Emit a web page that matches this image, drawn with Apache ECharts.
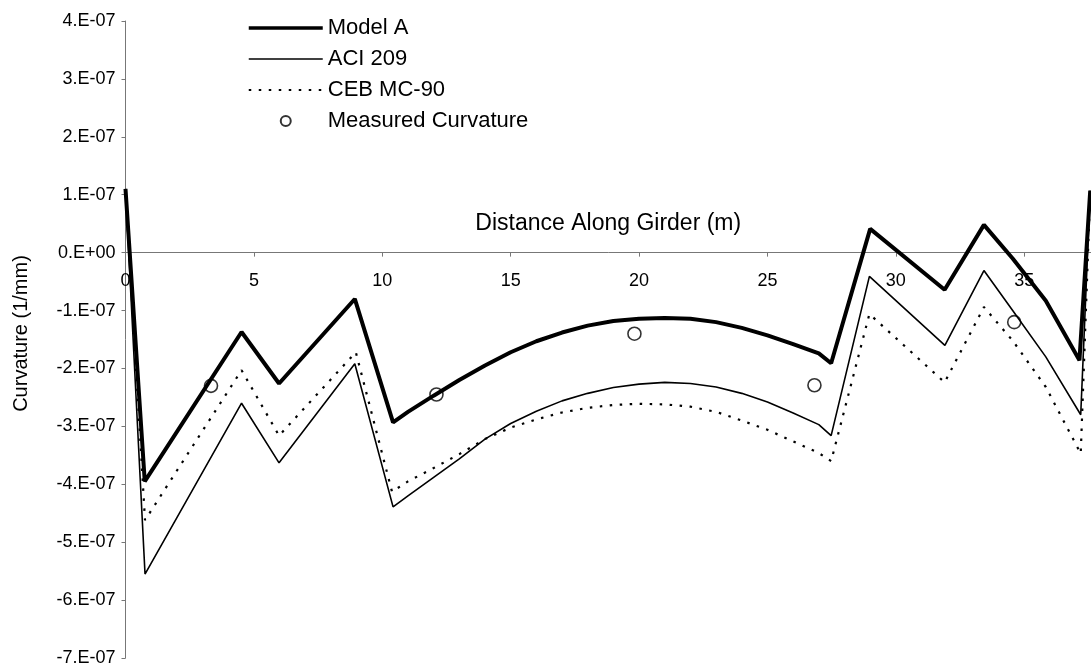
<!DOCTYPE html>
<html>
<head>
<meta charset="utf-8">
<title>Curvature Along Girder</title>
<script src="https://cdn.jsdelivr.net/npm/echarts@6/dist/echarts.min.js"></script>
<style>
  html, body { margin: 0; padding: 0; background: #fff; }
  #chart { width: 1091px; height: 667px; }
</style>
</head>
<body>
<div id="chart"></div>
<script>
// Distance along the girder (m) and curvature (1/mm) for each prediction model.
const modelA_x = [0, 0.75, 4.52, 5.98, 8.93, 10.42, 11, 12, 13, 14, 15, 16, 17, 18, 19, 20, 21, 22, 23, 24, 25, 26, 27, 27.48, 29.0, 31.9, 33.43, 34.55, 35.84, 37.15, 37.57];
const modelA_y = [1.10e-7, -3.95e-7, -1.37e-7, -2.26e-7, -0.80e-7, -2.93e-7, -2.75e-7, -2.47e-7, -2.20e-7, -1.95e-7, -1.72e-7, -1.53e-7, -1.38e-7, -1.26e-7, -1.18e-7, -1.14e-7, -1.13e-7, -1.14e-7, -1.20e-7, -1.30e-7, -1.43e-7, -1.58e-7, -1.74e-7, -1.91e-7, 0.41e-7, -0.64e-7, 0.48e-7, -0.10e-7, -0.83e-7, -1.86e-7, 1.07e-7];

const aci_x = [0, 0.76, 4.52, 5.98, 8.93, 10.42, 11, 12, 13, 14, 15, 16, 17, 18, 19, 20, 21, 22, 23, 24, 25, 26, 27, 27.48, 28.97, 31.91, 33.43, 34.55, 35.84, 37.2, 37.57];
const aci_y = [1.10e-7, -5.55e-7, -2.60e-7, -3.63e-7, -1.92e-7, -4.39e-7, -4.20e-7, -3.88e-7, -3.56e-7, -3.22e-7, -2.95e-7, -2.74e-7, -2.56e-7, -2.43e-7, -2.33e-7, -2.27e-7, -2.24e-7, -2.26e-7, -2.32e-7, -2.43e-7, -2.58e-7, -2.77e-7, -2.97e-7, -3.16e-7, -0.41e-7, -1.60e-7, -0.31e-7, -1.00e-7, -1.80e-7, -2.80e-7, 1.07e-7];

const ceb_x = [0, 0.76, 4.52, 5.98, 8.97, 10.38, 11, 12, 13, 14, 15, 16, 17, 18, 19, 20, 21, 22, 23, 24, 25, 26, 27, 27.48, 28.97, 31.9, 33.43, 34.55, 35.84, 37.2, 37.57];
const ceb_y = [1.10e-7, -4.62e-7, -2.03e-7, -3.16e-7, -1.72e-7, -4.13e-7, -3.95e-7, -3.72e-7, -3.48e-7, -3.22e-7, -3.02e-7, -2.88e-7, -2.76e-7, -2.68e-7, -2.63e-7, -2.61e-7, -2.62e-7, -2.66e-7, -2.75e-7, -2.90e-7, -3.06e-7, -3.26e-7, -3.46e-7, -3.60e-7, -1.06e-7, -2.24e-7, -0.94e-7, -1.52e-7, -2.32e-7, -3.47e-7, 1.07e-7];

const measured_x = [3.33, 12.11, 19.82, 26.83, 34.61];
const measured_y = [-2.30e-7, -2.45e-7, -1.40e-7, -2.29e-7, -1.20e-7];

// Axis ranges and tick spacing
const xMin = 0, xMax = 37.6, xStep = 5;
const yMin = -7e-7, yMax = 4e-7, yStep = 1e-7;

const pairs = (xs, ys) => xs.map((x, i) => [x, ys[i]]);

// Tick labels written the spreadsheet way: 4.E-07, 0.E+00, -1.E-07
function sciLabel(v) {
  const n = Math.round(v / 1e-7);
  if (n === 0) return '0.E+00';
  return n + '.E-07';
}

const FONT = '"Liberation Sans", Arial, Helvetica, sans-serif';
const AXIS_COLOR = '#777';

const GRID_TOP = 21, GRID_BOTTOM = 9, HEIGHT = 667;
const plotH = HEIGHT - GRID_TOP - GRID_BOTTOM;
// Distance from the bottom of the plot up to the zero line, so the x axis sits at y = 0
const zeroLift = plotH * (0 - yMin) / (yMax - yMin);

const NO_DOT = { color: 'rgba(0,0,0,0)' };
const STYLE_MODEL_A = { color: '#000', width: 4 };
const STYLE_ACI = { color: '#000', width: 1.6 };
const STYLE_CEB = { color: '#000', width: 2.2, type: [2.5, 7.5] };

const chart = echarts.init(document.getElementById('chart'), null, { renderer: 'canvas' });
chart.setOption({
  backgroundColor: '#fff',
  animation: false,
  textStyle: { fontFamily: FONT, color: '#000' },
  grid: { left: 125.5, right: 0, top: GRID_TOP, bottom: GRID_BOTTOM, containLabel: false, outerBoundsMode: 'none' },
  legend: {
    orient: 'vertical',
    left: 247,
    top: 17,
    padding: 0,
    itemWidth: 74,
    itemHeight: 10,
    itemGap: 9,
    textStyle: { fontFamily: FONT, fontSize: 22, lineHeight: 21, color: '#000' },
    data: [
      { name: 'Model A', lineStyle: { width: 3.5 } },
      { name: 'ACI 209', lineStyle: { width: 1.5 } },
      { name: 'CEB MC-90', lineStyle: { width: 1.8 } },
      { name: 'Measured Curvature' }
    ]
  },
  xAxis: {
    type: 'value',
    position: 'bottom',
    offset: -zeroLift,
    min: xMin,
    max: xMax,
    interval: xStep,
    name: 'Distance Along Girder (m)',
    nameLocation: 'middle',
    nameGap: -40,
    nameTextStyle: { fontFamily: FONT, fontSize: 23, color: '#000' },
    axisLine: { onZero: false, lineStyle: { color: AXIS_COLOR, width: 1 } },
    axisTick: { show: true, length: 4, lineStyle: { color: AXIS_COLOR } },
    axisLabel: { fontFamily: FONT, fontSize: 18, color: '#000', margin: 19, showMaxLabel: false },
    splitLine: { show: false }
  },
  yAxis: {
    type: 'value',
    min: yMin,
    max: yMax,
    interval: yStep,
    name: 'Curvature (1/mm)',
    nameLocation: 'middle',
    nameGap: 94,
    nameTextStyle: { fontFamily: FONT, fontSize: 20, color: '#000', padding: [0, 0, 0, 12] },
    axisLine: { show: true, onZero: false, lineStyle: { color: AXIS_COLOR, width: 1 } },
    axisTick: { show: true, length: 4, lineStyle: { color: AXIS_COLOR } },
    axisLabel: { fontFamily: FONT, fontSize: 18, color: '#000', margin: 10, formatter: sciLabel },
    splitLine: { show: false }
  },
  series: [
    {
      name: 'Model A',
      type: 'line',
      data: pairs(modelA_x, modelA_y),
      symbol: 'none',
      itemStyle: NO_DOT,
      lineStyle: STYLE_MODEL_A,
      z: 5
    },
    {
      name: 'ACI 209',
      type: 'line',
      data: pairs(aci_x, aci_y),
      symbol: 'none',
      itemStyle: NO_DOT,
      lineStyle: STYLE_ACI,
      z: 4
    },
    {
      name: 'CEB MC-90',
      type: 'line',
      data: pairs(ceb_x, ceb_y),
      symbol: 'none',
      itemStyle: NO_DOT,
      lineStyle: STYLE_CEB,
      z: 3
    },
    {
      name: 'Measured Curvature',
      type: 'scatter',
      data: pairs(measured_x, measured_y),
      symbol: 'circle',
      symbolSize: 13,
      itemStyle: { color: 'rgba(255,255,255,0)', borderColor: '#000', borderWidth: 1.6 },
      z: 6
    }
  ]
});
</script>
</body>
</html>
